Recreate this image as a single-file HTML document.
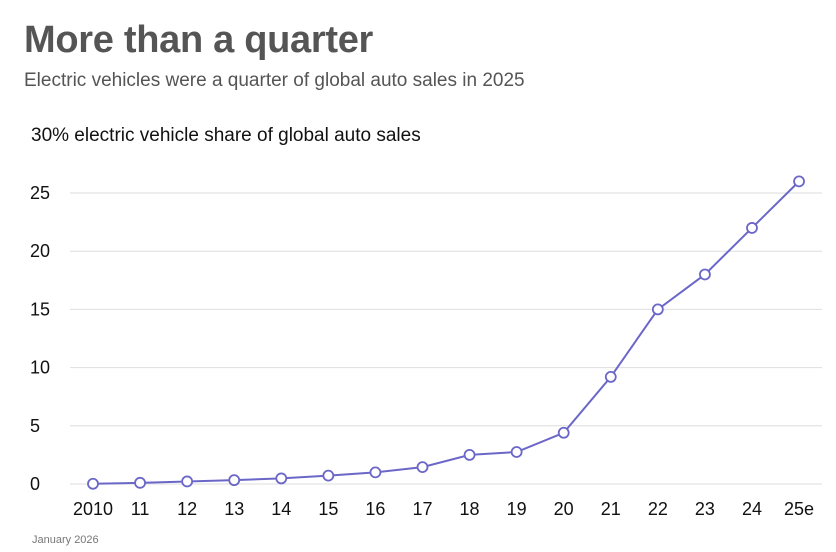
<!DOCTYPE html>
<html><head><meta charset="utf-8">
<style>
html,body{margin:0;padding:0;background:#fff;width:836px;height:552px;overflow:hidden;font-family:"Liberation Sans",sans-serif}
#title{position:absolute;left:24px;top:19px;font-size:38px;font-weight:bold;color:#555;letter-spacing:-0.3px}
#sub{position:absolute;left:24px;top:70px;font-size:19px;color:#555}
#foot{position:absolute;left:32px;top:534px;font-size:11px;color:#777}
svg{position:absolute;left:0;top:0}
</style></head>
<body>
<div id="title">More than a quarter</div>
<div id="sub">Electric vehicles were a quarter of global auto sales in 2025</div>
<svg id="chart" width="836" height="552"></svg>
<div id="foot">January 2026</div>
<script>
const categories=["2010","11","12","13","14","15","16","17","18","19","20","21","22","23","24","25e"];
const shareValues=[0.02,0.1,0.22,0.33,0.48,0.72,1.0,1.45,2.5,2.75,4.4,9.2,15,18,22,26];
const yTicks=[0,5,10,15,20,25];
const yTopLabel="30% electric vehicle share of global auto sales";
const NS="http://www.w3.org/2000/svg";
const svgEl=document.getElementById('chart');
const xPos=i=>93+i*47.07;
const yPos=v=>484-v*11.64;
function mk(t,a){const e=document.createElementNS(NS,t);for(const k in a)e.setAttribute(k,a[k]);svgEl.appendChild(e);return e;}
yTicks.forEach(t=>{
  const g=mk('line',{x1:70,x2:822,y1:yPos(t),y2:yPos(t),stroke:'#dedede','stroke-width':1});
  
  
  const l=mk('text',{x:30,y:yPos(t)+6,'font-size':18,fill:'#111','font-family':'Liberation Sans, sans-serif'});
  l.textContent=t;
  
  
});
const topLabel=mk('text',{x:31,y:141,'font-size':19,fill:'#111','font-family':'Liberation Sans, sans-serif'});
topLabel.textContent=yTopLabel;


categories.forEach((c,i)=>{
  const l=mk('text',{x:xPos(i),y:515,'font-size':18,fill:'#111','text-anchor':'middle','font-family':'Liberation Sans, sans-serif'});
  l.textContent=c;
  
  
});
const line=mk('polyline',{points:shareValues.map((v,i)=>xPos(i)+','+yPos(v)).join(' '),fill:'none',stroke:'#6b67c8','stroke-width':2});


shareValues.forEach((v,i)=>{
  const p=mk('circle',{cx:xPos(i),cy:yPos(v),r:5,fill:'#fff',stroke:'#6b67c8','stroke-width':1.8});
  
  
});
</script>
</body></html>
